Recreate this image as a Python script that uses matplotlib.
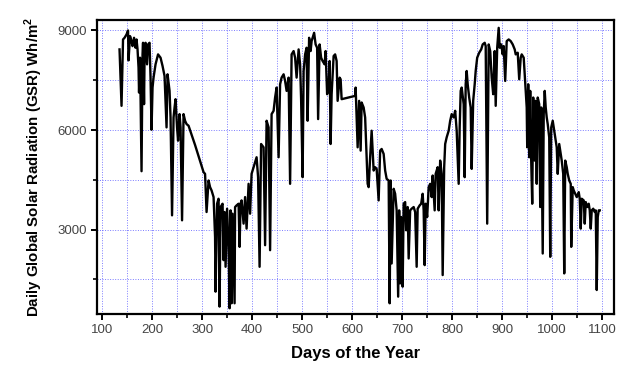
import matplotlib.pyplot as plt
from matplotlib.ticker import MultipleLocator

# daily GSR (day index, Wh/m2)
days = [
    135, 139, 142, 145, 149, 152, 153, 156, 159, 161, 164, 167, 169, 171, 173, 174, 176, 179,
    181, 182, 184, 185, 187, 190, 192, 195, 197, 199, 201, 203, 207, 212, 217, 221, 225, 229,
    231, 235, 237, 240, 243, 245, 247, 250, 252, 255, 257, 260, 263, 266, 269, 273,
    286, 303, 306, 309, 313, 316, 319, 323, 326, 327, 330, 333, 335, 337, 341, 343, 345, 347,
    350, 353, 355, 357, 359, 361, 365, 366, 369, 373, 375, 377, 379, 383, 386, 389, 393, 396,
    399, 405, 409, 412, 415, 418, 423, 426, 429, 433, 436, 439, 443, 446, 449, 453, 456, 459,
    463, 466, 469, 473, 476, 479, 483, 486, 489, 493, 496,
    498, 501, 503, 506, 509, 511, 514, 517, 519, 522, 524, 527, 530, 532, 535, 538, 541, 545,
    547, 550, 553, 555, 557, 559, 563, 566, 569, 571, 575, 577, 579, 606, 607, 609, 611, 614,
    617, 619, 623, 626, 629, 631, 633, 636, 639, 643, 646, 649, 653, 656, 659, 663, 666, 669,
    673, 675, 677, 679, 683, 686, 689, 692, 694, 696, 698, 701, 703, 706, 708, 711, 713, 716,
    719, 723, 726, 729, 731, 735, 738, 741, 743, 745, 747, 750, 753, 756, 759, 761, 765, 767,
    771, 773, 776, 779, 781, 784, 786, 789, 793, 796, 799, 803, 806, 809, 813, 815, 817, 819,
    823, 825, 827, 829, 831, 834, 837, 839, 842, 845, 847, 850, 854, 858, 861, 865, 867, 870,
    873, 876, 879, 882, 885, 887, 890, 893, 895, 898, 901, 903, 906, 909, 913, 917, 921, 925,
    927, 931, 934, 937, 939, 943, 946, 949, 950, 952, 954, 956, 958, 960, 962, 965, 967, 969,
    971, 974, 976, 978, 981, 983, 985, 987, 989, 991, 994, 996, 998, 1001, 1003, 1006, 1009,
    1011, 1014, 1017, 1019, 1022, 1024, 1026, 1029, 1031, 1034, 1037, 1038, 1041, 1043, 1046,
    1049, 1053, 1055, 1057, 1059, 1063, 1065, 1067, 1070, 1073, 1075, 1077, 1079, 1082, 1085,
    1087, 1089, 1091, 1093, 1095,
]
gsr = [
    8430, 6730, 8730, 8780, 8880, 9000, 8100, 8830, 8680, 8530, 8780, 8480, 8730, 8430, 7880, 7130, 8180, 4760,
    8280, 8630, 6780, 8180, 8630, 7980, 8580, 8630, 7580, 6010, 7280, 7580, 7980, 8280, 8180, 7930, 7630, 6080,
    7680, 7180, 6380, 3430, 6380, 6680, 6930, 6080, 5680, 6480, 6080, 3280, 6480, 6280, 6180, 6130,
    5550, 4730, 4680, 3530, 4480, 4280, 4180, 3980, 2780, 1130, 3780, 3930, 680, 3680, 3780, 2080, 3530, 1880,
    3630, 2480, 630, 3580, 780, 3480, 780, 3680, 3730, 3780, 2480, 3780, 3880, 3180, 3980, 3030, 4380, 3480,
    4680, 4980, 5180, 4580, 1880, 5580, 5480, 2530, 6280, 6080, 2380, 6480, 6580, 6980, 7280, 5180, 7380, 7580,
    7680, 7480, 7180, 7580, 4380, 8280, 8380, 8180, 7580, 8430, 7980,
    6930, 4580, 7780, 8280, 8480, 6280, 8780, 8380, 8680, 8830, 8930, 8580, 8480, 6330, 8580, 8180, 8080, 7980,
    8380, 7080, 7280, 8080, 5580, 7080, 8230, 8280, 8080, 6880, 7580, 7530, 6930, 7030, 7280, 6380, 5480, 6880,
    5380, 6830, 6680, 6380, 5180, 4380, 4280, 5180, 5980, 4780, 4880, 4830, 3880, 5380, 5430, 5280, 4780, 4530,
    4480, 780, 4480, 1980, 4230, 4080, 3580, 980, 3580, 1380, 3380, 1280, 3780, 3830, 2980, 3680, 2130, 3580,
    3630, 3680, 3530, 1880, 3630, 3730, 3780, 4080, 3580, 1930, 3780, 3380, 4280, 4380, 3980, 4630, 3580, 4680,
    4880, 3580, 5080, 4680, 1630, 4880, 5580, 5780, 5980, 6280, 6480, 6380, 6580, 5980, 4380, 6080, 7180, 7280,
    6780, 4580, 7380, 7780, 7380, 6980, 6680, 4830, 6880, 7380, 7780, 8180, 8330, 8430, 8580, 8630, 8530, 3180,
    8580, 8380, 7580, 7080, 8380, 6730, 8480, 9080, 8480, 8580, 8280, 8530, 7480, 8680, 8730, 8680, 8580, 8430,
    8280, 8330, 7530, 8180, 8280, 8180, 7430, 6680, 5480, 7380, 5180, 7180, 5080, 3780, 6980, 5080, 6880, 4380,
    6980, 6780, 3680, 6680, 2280, 6480, 7180, 6680, 6380, 6180, 5780, 2180, 6080, 6280, 6080, 5780, 5480,
    4680, 5580, 5280, 5080, 4680, 1680, 5080, 4880, 4680, 4480, 4380, 2480, 4280, 4180, 4080,
    3980, 4130, 3930, 3030, 3930, 3880, 3180, 3830, 3680, 3780, 3580, 3030, 3580, 3630, 3530,
    3580, 1180, 3380, 3580, 3580,
]

x_ticks = [100, 200, 300, 400, 500, 600, 700, 800, 900, 1000, 1100]
y_ticks = [3000, 6000, 9000]

fig = plt.figure(figsize=(6.3, 3.68), dpi=100)
ax = fig.add_axes([0.154, 0.147, 0.821, 0.799])

ax.plot(days, gsr, color='black', lw=1.7, zorder=3)

ax.set_xlim(90, 1124)
ax.set_ylim(460, 9320)
ax.set_xticks(x_ticks)
ax.set_yticks(y_ticks)
ax.xaxis.set_minor_locator(MultipleLocator(50))
ax.yaxis.set_minor_locator(MultipleLocator(1500))

ax.grid(True, which='both', color='#5050ff', lw=0.7, linestyle=(0, (1, 1.6)), alpha=0.75)
ax.set_axisbelow(True)

for s in ax.spines.values():
    s.set_linewidth(1.6)
ax.tick_params(which='major', direction='out', length=4, width=1.4,
               labelsize=9.5, labelcolor='#444444')
ax.tick_params(which='minor', direction='out', length=3, width=1.2)
for lab in ax.get_xticklabels() + ax.get_yticklabels():
    lab.set_family('Liberation Sans')

ax.set_xlabel('Days of the Year', fontsize=12, fontweight='bold',
              family='Liberation Sans', labelpad=7)
ax.set_ylabel('Daily Global Solar Radiation (GSR) Wh/m$^\\mathregular{2}$', fontsize=10.8,
              fontweight='bold', family='Liberation Sans', labelpad=9)

fig.savefig('out.png', dpi=100)
